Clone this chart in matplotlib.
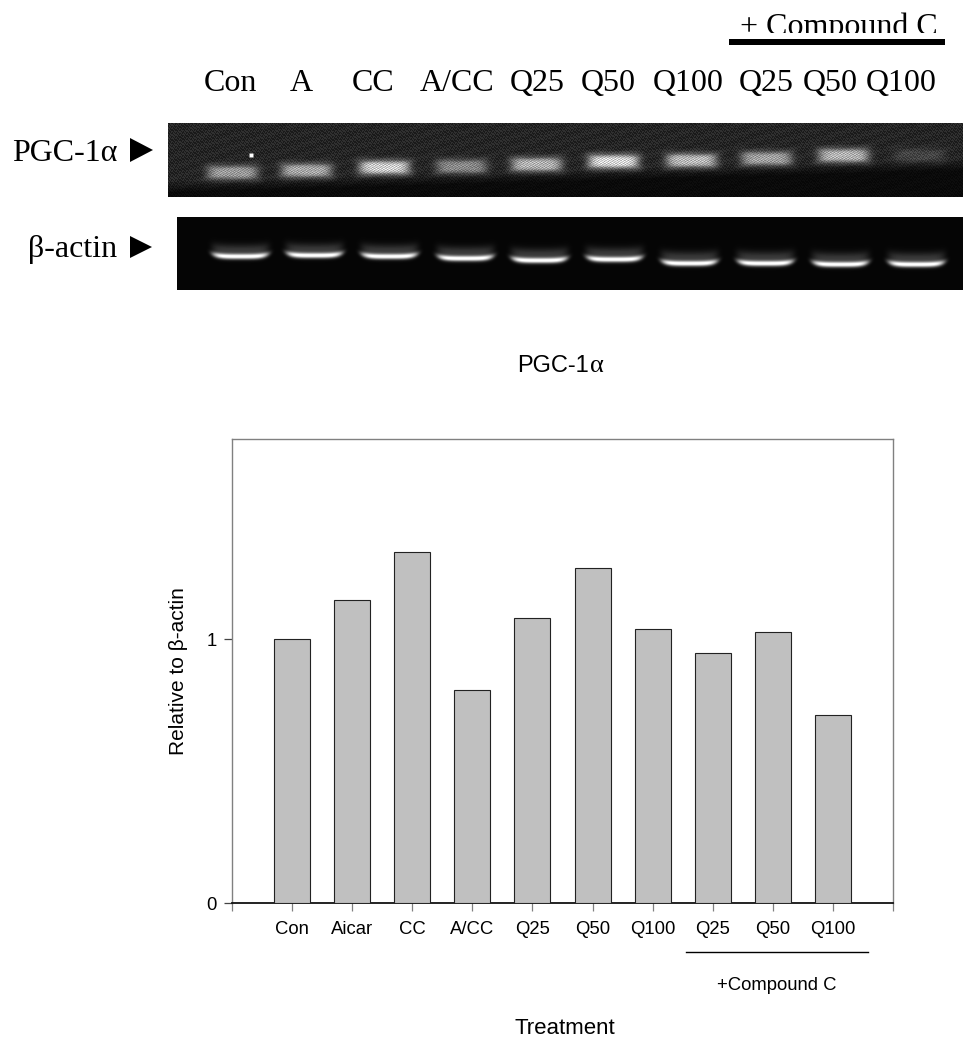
import matplotlib
matplotlib.use("Agg")
import matplotlib.pyplot as plt
import numpy as np

# bar chart values
categorias = ["Con", "Aicar", "CC", "A/CC", "Q25", "Q50", "Q100", "Q25", "Q50", "Q100"]
valores = [1.0, 1.148, 1.33, 0.807, 1.08, 1.27, 1.038, 0.947, 1.027, 0.712]

# lane labels above the gels
carriles = ["Con", "A", "CC", "A/CC", "Q25", "Q50", "Q100", "Q25", "Q50", "Q100"]
carriles_x = [230, 301, 373, 457, 537, 608, 688, 766, 830, 901]

# gel bands, in pixels of the picture
pgc_x = [232, 306, 384, 461, 536, 613, 691, 766, 843, 919]
pgc_y = [172, 170, 167, 166, 164, 161, 160, 158, 155, 155]
pgc_int = [0.38, 0.42, 0.55, 0.32, 0.46, 0.58, 0.48, 0.4, 0.46, 0.1]
actin_x = [240, 314, 389, 465, 539, 614, 689, 765, 840, 916]
actin_y = [256, 255, 256, 258, 260, 259, 263, 263, 264, 264]

W, H = 963, 1041
SERIF = "Liberation Serif"
SANS = "Liberation Sans"
GRIS = "#808080"

fig = plt.figure(figsize=(W / 100, H / 100), dpi=100)
fondo = fig.add_axes([0, 0, 1, 1])
fondo.set_xlim(0, W)
fondo.set_ylim(H, 0)
fondo.axis("off")


def gel_pgc(x0, x1, y0, y1):
    xx, yy = np.meshgrid(np.arange(x0, x1), np.arange(y0, y1))
    # lighter at the top, black lower right
    corte = 192 - 22 * (xx - x0) / (x1 - x0)
    img = 0.04 + 0.11 * np.clip((corte - yy) / 12.0, 0, 1)
    # dotted grain of the scanned picture
    img = img * (1 + 0.3 * np.sign(np.sin(xx * 2.3) * np.sin(yy * 1.9 + xx * 0.7)))
    for cx, cy, a in zip(pgc_x, pgc_y, pgc_int):
        halo = np.exp(-((xx - cx) / 29.0) ** 8 - ((yy - cy) / 10.0) ** 6)
        banda = np.exp(-((xx - cx) / 24.0) ** 6 - ((yy - cy) / 6.0) ** 4)
        grano = 0.85 + 0.25 * np.sin(xx * 1.7 + yy * 2.9)
        img = img + 0.35 * a * halo + a * banda * grano
    return np.clip(img, 0, 1)


def gel_actina(x0, x1, y0, y1):
    xx, yy = np.meshgrid(np.arange(x0, x1), np.arange(y0, y1))
    img = np.zeros(xx.shape) + 0.02
    for cx, cy in zip(actin_x, actin_y):
        # bands sag a little in the middle and curl up at the edges
        curva = cy - 2.5 * ((xx - cx) / 28.0) ** 4
        ancho = np.exp(-((xx - cx) / 28.0) ** 8)
        img = img + ancho * (0.95 * np.exp(-((yy - curva) / 2.8) ** 2)
                             + 0.2 * np.exp(-((yy - curva + 6) / 6.0) ** 2))
    return np.clip(img, 0, 1)


fondo.imshow(gel_pgc(168, 963, 123, 197), extent=(168, 963, 197, 123), cmap="gray",
             vmin=0, vmax=1, aspect="auto", interpolation="nearest")
fondo.imshow(gel_actina(177, 963, 217, 290), extent=(177, 963, 290, 217), cmap="gray",
             vmin=0, vmax=1, aspect="auto", interpolation="bilinear")
fondo.plot([251], [155], marker="s", ms=2.5, color="white", mec="none")
fondo.set_xlim(0, W)
fondo.set_ylim(H, 0)

# labels of the gels
for x, t in zip(carriles_x, carriles):
    fondo.text(x, 91, t, family=SERIF, fontsize=23, ha="center", va="baseline")
tc = fondo.text(839, 35, "+ Compound C", family=SERIF, fontsize=23, ha="center", va="baseline")
tc.set_clip_on(True)
tc.set_clip_box(None)
tc.set_clip_path(plt.Rectangle((0, 0), W, 33, transform=fondo.transData))
fondo.fill_between([729, 945], 39, 45, color="black", lw=0)

fondo.text(12, 161, "PGC-1α", family=SERIF, fontsize=23, ha="left", va="baseline")
fondo.text(28, 257, "β-actin", family=SERIF, fontsize=23, ha="left", va="baseline")
fondo.fill([130, 130, 153], [138, 162, 150], color="black", lw=0)
fondo.fill([130, 130, 152], [236, 258, 247], color="black", lw=0)

fondo.text(517, 372, "PGC-1", family=SANS, fontsize=17, ha="left", va="baseline")
fondo.text(590, 372, "α", family=SERIF, fontsize=19, ha="left", va="baseline")

# bar chart
ax = fig.add_axes([232 / W, 1 - 903 / H, (893 - 232) / W, (903 - 439) / H])
pos = np.arange(len(valores)) + 1
ax.bar(pos, valores, width=0.6, color="#C0C0C0", edgecolor="#222222", linewidth=0.8, zorder=3)
ax.set_xlim(0, len(valores) + 1)
ax.set_ylim(0, 464 / 264)
ax.set_yticks([0, 1])
ax.set_xticks(np.arange(len(valores) + 2))
ax.set_xticklabels([""] + categorias + [""], family=SANS, fontsize=13.3)
ax.tick_params(axis="y", labelsize=13.3, length=6, width=0.9, pad=5, color="#444444")
ax.tick_params(axis="x", length=6, width=0.9, pad=7, color=GRIS)
for lab in ax.get_yticklabels():
    lab.set_family(SANS)
for lado in ["left", "right", "top"]:
    ax.spines[lado].set_linewidth(1.0)
    ax.spines[lado].set_color(GRIS)
ax.spines["bottom"].set_linewidth(1.3)
ax.spines["bottom"].set_color("#111111")

fondo.plot([686, 868], [952, 952], color="black", lw=1)
fondo.text(777, 985, "+Compound C", family=SANS, fontsize=13.3, ha="center", va="center")
fondo.text(565, 1028, "Treatment", family=SANS, fontsize=16, ha="center", va="center")
fondo.text(179, 671, "Relative to β-actin", family=SANS, fontsize=15, rotation=90,
           ha="center", va="center")

fig.savefig("out.png", dpi=100)
